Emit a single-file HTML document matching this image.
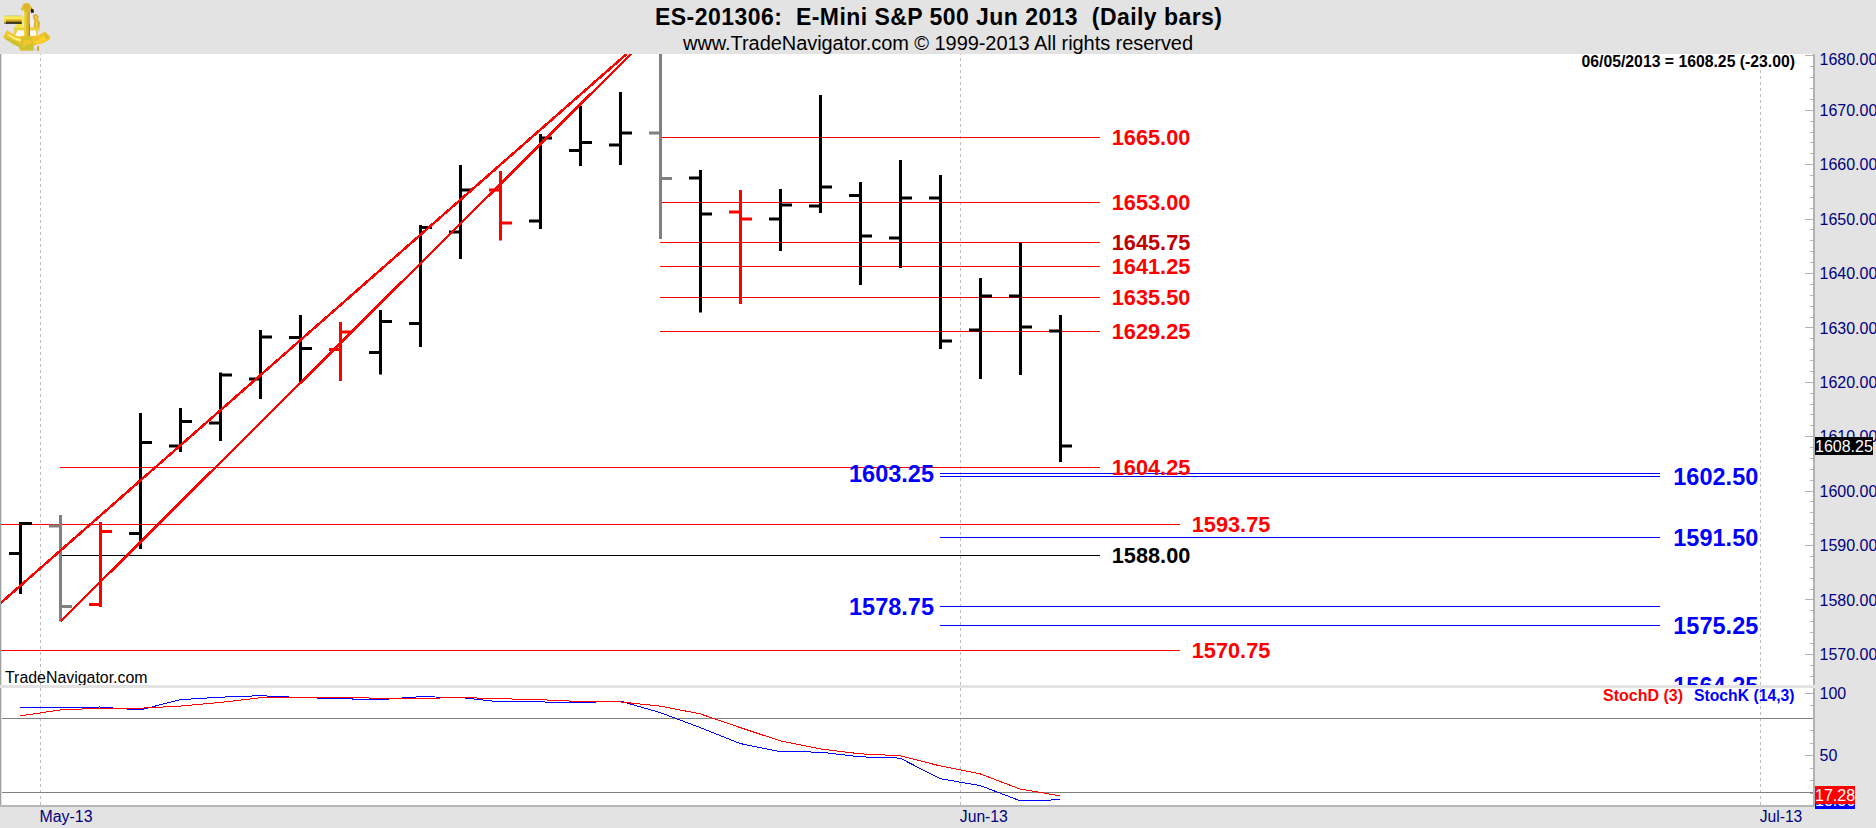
<!DOCTYPE html>
<html><head><meta charset="utf-8"><title>ES-201306: E-Mini S&amp;P 500 Jun 2013 (Daily bars)</title>
<style>
html,body{margin:0;padding:0;}
body{width:1876px;height:828px;overflow:hidden;background:#e3e3e3;position:relative;font-family:"Liberation Sans",sans-serif;}
svg{position:absolute;left:0;top:0;}
svg text{font-family:"Liberation Sans",sans-serif;}
</style></head><body>
<svg width="1876" height="828" viewBox="0 0 1876 828">
<defs>
<clipPath id="cp2"><rect x="0" y="54" width="1813" height="751"/></clipPath><clipPath id="cp"><rect x="1" y="54" width="1812" height="631"/></clipPath>
<linearGradient id="tel" x1="0" y1="0" x2="0" y2="1"><stop offset="0" stop-color="#c8c8b0"/><stop offset="0.12" stop-color="#f0e050"/><stop offset="0.38" stop-color="#fff060"/><stop offset="0.55" stop-color="#f0b020"/><stop offset="0.72" stop-color="#a09020"/><stop offset="0.9" stop-color="#181408"/><stop offset="1" stop-color="#181408"/></linearGradient>
<linearGradient id="gold" x1="0" y1="0" x2="1" y2="0"><stop offset="0" stop-color="#f4dc48"/><stop offset="0.5" stop-color="#e0b82c"/><stop offset="1" stop-color="#c8a020"/></linearGradient>
</defs>

<rect x="0" y="54" width="1814" height="631" fill="#fff"/>
<rect x="0" y="688" width="1814" height="117" fill="#fff"/>
<rect x="0" y="54" width="1.3" height="751" fill="#a0a0a0"/>
<rect x="1813" y="54" width="2" height="753" fill="#b2b2b2"/>
<rect x="0" y="805" width="1815" height="2" fill="#b8b8b8"/>
<path d="M40.5 52V685M40.5 688V805" stroke="#bcbcbc" stroke-width="1" stroke-dasharray="3 3" fill="none" clip-path="url(#cp2)"/>
<path d="M960.5 52V685M960.5 688V805" stroke="#bcbcbc" stroke-width="1" stroke-dasharray="3 3" fill="none" clip-path="url(#cp2)"/>
<path d="M1760.5 52V685M1760.5 688V805" stroke="#bcbcbc" stroke-width="1" stroke-dasharray="3 3" fill="none" clip-path="url(#cp2)"/>
<path d="M1805 55.5H1813M1810 66.5H1813M1810 77.5H1813M1810 88.5H1813M1810 99.5H1813M1805 110.5H1813M1810 121.5H1813M1810 132.5H1813M1810 142.5H1813M1810 153.5H1813M1805 164.5H1813M1810 175.5H1813M1810 186.5H1813M1810 197.5H1813M1810 208.5H1813M1805 219.5H1813M1810 229.5H1813M1810 240.5H1813M1810 251.5H1813M1810 262.5H1813M1805 273.5H1813M1810 284.5H1813M1810 295.5H1813M1810 306.5H1813M1810 317.5H1813M1805 327.5H1813M1810 338.5H1813M1810 349.5H1813M1810 360.5H1813M1810 371.5H1813M1805 382.5H1813M1810 393.5H1813M1810 404.5H1813M1810 414.5H1813M1810 425.5H1813M1805 436.5H1813M1810 447.5H1813M1810 458.5H1813M1810 469.5H1813M1810 480.5H1813M1805 491.5H1813M1810 501.5H1813M1810 512.5H1813M1810 523.5H1813M1810 534.5H1813M1805 545.5H1813M1810 556.5H1813M1810 567.5H1813M1810 578.5H1813M1810 589.5H1813M1805 599.5H1813M1810 610.5H1813M1810 621.5H1813M1810 632.5H1813M1810 643.5H1813M1805 654.5H1813M1810 665.5H1813M1810 676.5H1813M1805 693.5H1813M1810 705.5H1813M1810 718.5H1813M1810 730.5H1813M1810 743.5H1813M1805 755.5H1813M1810 768.5H1813M1810 780.5H1813M1810 793.5H1813M1810 805.5H1813" stroke="#b2b2b2" stroke-width="1" fill="none"/>
<g clip-path="url(#cp)">
<rect x="660" y="137" width="440" height="1" fill="#ff0000"/>
<rect x="660" y="202" width="440" height="1" fill="#ff0000"/>
<rect x="660" y="242" width="440" height="1" fill="#ff0000"/>
<rect x="660" y="266" width="440" height="1" fill="#ff0000"/>
<rect x="660" y="297" width="440" height="1" fill="#ff0000"/>
<rect x="660" y="331" width="440" height="1" fill="#ff0000"/>
<rect x="60" y="467" width="1040" height="1" fill="#ff0000"/>
<rect x="0" y="524" width="1180" height="1" fill="#ff0000"/>
<rect x="0" y="650" width="1180" height="1" fill="#ff0000"/>
<rect x="60" y="555" width="1040" height="1" fill="#000"/>
<rect x="940" y="473" width="720" height="1" fill="#0000ff"/>
<rect x="940" y="476" width="720" height="1" fill="#0000ff"/>
<rect x="940" y="537" width="720" height="1" fill="#0000ff"/>
<rect x="940" y="606" width="720" height="1" fill="#0000ff"/>
<rect x="940" y="625" width="720" height="1" fill="#0000ff"/>
<rect x="19.0" y="522" width="3" height="72" fill="#000"/>
<rect x="9.0" y="552.0" width="10" height="3" fill="#000"/>
<rect x="22.0" y="522.0" width="10" height="3" fill="#000"/>
<rect x="59.0" y="515" width="3" height="106.5" fill="#808080"/>
<rect x="49.0" y="524.5" width="10" height="3" fill="#808080"/>
<rect x="62.0" y="605.0" width="10" height="3" fill="#808080"/>
<rect x="99.0" y="522" width="3" height="85" fill="#ff0000"/>
<rect x="89.0" y="603.0" width="10" height="3" fill="#ff0000"/>
<rect x="102.0" y="530.0" width="10" height="3" fill="#ff0000"/>
<rect x="139.0" y="413" width="3" height="136" fill="#000"/>
<rect x="129.0" y="532.0" width="10" height="3" fill="#000"/>
<rect x="142.0" y="441.0" width="10" height="3" fill="#000"/>
<rect x="179.0" y="408" width="3" height="44" fill="#000"/>
<rect x="169.0" y="444.5" width="10" height="3" fill="#000"/>
<rect x="182.0" y="420.0" width="10" height="3" fill="#000"/>
<rect x="219.0" y="372.5" width="3" height="68.5" fill="#000"/>
<rect x="209.0" y="421.5" width="10" height="3" fill="#000"/>
<rect x="222.0" y="373.5" width="10" height="3" fill="#000"/>
<rect x="259.0" y="330" width="3" height="69" fill="#000"/>
<rect x="249.0" y="377.5" width="10" height="3" fill="#000"/>
<rect x="262.0" y="335.5" width="10" height="3" fill="#000"/>
<rect x="299.0" y="315" width="3" height="67" fill="#000"/>
<rect x="289.0" y="336.0" width="10" height="3" fill="#000"/>
<rect x="302.0" y="347.0" width="10" height="3" fill="#000"/>
<rect x="339.0" y="322" width="3" height="59" fill="#ff0000"/>
<rect x="329.0" y="348.0" width="10" height="3" fill="#ff0000"/>
<rect x="342.0" y="330.5" width="10" height="3" fill="#ff0000"/>
<rect x="379.0" y="310" width="3" height="64.5" fill="#000"/>
<rect x="369.0" y="351.0" width="10" height="3" fill="#000"/>
<rect x="382.0" y="320.0" width="10" height="3" fill="#000"/>
<rect x="419.0" y="225" width="3" height="122" fill="#000"/>
<rect x="409.0" y="322.0" width="10" height="3" fill="#000"/>
<rect x="422.0" y="226.0" width="10" height="3" fill="#000"/>
<rect x="459.0" y="165" width="3" height="94" fill="#000"/>
<rect x="449.0" y="230.5" width="10" height="3" fill="#000"/>
<rect x="462.0" y="188.5" width="10" height="3" fill="#000"/>
<rect x="499.0" y="171" width="3" height="69.5" fill="#ff0000"/>
<rect x="489.0" y="188.5" width="10" height="3" fill="#ff0000"/>
<rect x="502.0" y="221.5" width="10" height="3" fill="#ff0000"/>
<rect x="539.0" y="134" width="3" height="95" fill="#000"/>
<rect x="529.0" y="219.5" width="10" height="3" fill="#000"/>
<rect x="542.0" y="136.5" width="10" height="3" fill="#000"/>
<rect x="579.0" y="106" width="3" height="60" fill="#000"/>
<rect x="569.0" y="149.0" width="10" height="3" fill="#000"/>
<rect x="582.0" y="141.0" width="10" height="3" fill="#000"/>
<rect x="619.0" y="92" width="3" height="73" fill="#000"/>
<rect x="609.0" y="143.5" width="10" height="3" fill="#000"/>
<rect x="622.0" y="131.5" width="10" height="3" fill="#000"/>
<rect x="659.0" y="54" width="3" height="185" fill="#808080"/>
<rect x="649.0" y="131.5" width="10" height="3" fill="#808080"/>
<rect x="662.0" y="177.0" width="10" height="3" fill="#808080"/>
<rect x="699.0" y="170" width="3" height="142.5" fill="#000"/>
<rect x="689.0" y="176.5" width="10" height="3" fill="#000"/>
<rect x="702.0" y="212.5" width="10" height="3" fill="#000"/>
<rect x="739.0" y="190" width="3" height="114" fill="#ff0000"/>
<rect x="729.0" y="210.5" width="10" height="3" fill="#ff0000"/>
<rect x="742.0" y="217.5" width="10" height="3" fill="#ff0000"/>
<rect x="779.0" y="189" width="3" height="62" fill="#000"/>
<rect x="769.0" y="217.5" width="10" height="3" fill="#000"/>
<rect x="782.0" y="203.5" width="10" height="3" fill="#000"/>
<rect x="819.0" y="95" width="3" height="118" fill="#000"/>
<rect x="809.0" y="204.5" width="10" height="3" fill="#000"/>
<rect x="822.0" y="185.5" width="10" height="3" fill="#000"/>
<rect x="859.0" y="182" width="3" height="103" fill="#000"/>
<rect x="849.0" y="194.0" width="10" height="3" fill="#000"/>
<rect x="862.0" y="234.5" width="10" height="3" fill="#000"/>
<rect x="899.0" y="160" width="3" height="108" fill="#000"/>
<rect x="889.0" y="236.5" width="10" height="3" fill="#000"/>
<rect x="902.0" y="196.5" width="10" height="3" fill="#000"/>
<rect x="939.0" y="175" width="3" height="174" fill="#000"/>
<rect x="929.0" y="196.5" width="10" height="3" fill="#000"/>
<rect x="942.0" y="339.5" width="10" height="3" fill="#000"/>
<rect x="979.0" y="278" width="3" height="101" fill="#000"/>
<rect x="969.0" y="328.5" width="10" height="3" fill="#000"/>
<rect x="982.0" y="294.5" width="10" height="3" fill="#000"/>
<rect x="1019.0" y="242.5" width="3" height="132.5" fill="#000"/>
<rect x="1009.0" y="294.5" width="10" height="3" fill="#000"/>
<rect x="1022.0" y="325.5" width="10" height="3" fill="#000"/>
<rect x="1059.0" y="315" width="3" height="147" fill="#000"/>
<rect x="1049.0" y="329.5" width="10" height="3" fill="#000"/>
<rect x="1062.0" y="444.5" width="10" height="3" fill="#000"/>
<path d="M0 603.6L626.6 54M60.5 621.5L631 54" stroke="#ff0000" stroke-width="2.5" fill="none" shape-rendering="crispEdges"/>
<text x="1111.8" y="145.4" font-size="22" font-weight="bold" fill="#ff0000" textLength="78.5" lengthAdjust="spacingAndGlyphs">1665.00</text>
<text x="1111.8" y="210.4" font-size="22" font-weight="bold" fill="#ff0000" textLength="78.5" lengthAdjust="spacingAndGlyphs">1653.00</text>
<text x="1111.8" y="274.4" font-size="22" font-weight="bold" fill="#ff0000" textLength="78.5" lengthAdjust="spacingAndGlyphs">1641.25</text>
<text x="1111.8" y="305.4" font-size="22" font-weight="bold" fill="#ff0000" textLength="78.5" lengthAdjust="spacingAndGlyphs">1635.50</text>
<text x="1111.8" y="339.4" font-size="22" font-weight="bold" fill="#ff0000" textLength="78.5" lengthAdjust="spacingAndGlyphs">1629.25</text>
<text x="1111.8" y="475.4" font-size="22" font-weight="bold" fill="#ff0000" textLength="78.5" lengthAdjust="spacingAndGlyphs">1604.25</text>
<text x="1111.8" y="250.4" font-size="22" font-weight="bold" fill="#c00000" textLength="78.5" lengthAdjust="spacingAndGlyphs">1645.75</text>
<text x="1111.8" y="563.4" font-size="22" font-weight="bold" fill="#000" textLength="78.5" lengthAdjust="spacingAndGlyphs">1588.00</text>
<text x="1191.8" y="532.4" font-size="22" font-weight="bold" fill="#ff0000" textLength="78.5" lengthAdjust="spacingAndGlyphs">1593.75</text>
<text x="1191.8" y="658.4" font-size="22" font-weight="bold" fill="#ff0000" textLength="78.5" lengthAdjust="spacingAndGlyphs">1570.75</text>
<text x="849.0" y="482.1" font-size="24" font-weight="bold" fill="#0000ff" textLength="85" lengthAdjust="spacingAndGlyphs">1603.25</text>
<text x="849.0" y="615.1" font-size="24" font-weight="bold" fill="#0000ff" textLength="85" lengthAdjust="spacingAndGlyphs">1578.75</text>
<text x="1673.3" y="485.1" font-size="24" font-weight="bold" fill="#0000ff" textLength="85" lengthAdjust="spacingAndGlyphs">1602.50</text>
<text x="1673.3" y="546.1" font-size="24" font-weight="bold" fill="#0000ff" textLength="85" lengthAdjust="spacingAndGlyphs">1591.50</text>
<text x="1673.3" y="634.1" font-size="24" font-weight="bold" fill="#0000ff" textLength="85" lengthAdjust="spacingAndGlyphs">1575.25</text>
<text x="1673.3" y="694.3" font-size="24" font-weight="bold" fill="#0000ff" textLength="85" lengthAdjust="spacingAndGlyphs">1564.25</text>
<text x="5" y="683" font-size="16" fill="#000" textLength="142.5" lengthAdjust="spacingAndGlyphs">TradeNavigator.com</text>
<text x="1795" y="66.5" font-size="16" font-weight="bold" fill="#000" text-anchor="end" textLength="213.5" lengthAdjust="spacingAndGlyphs">06/05/2013 = 1608.25 (-23.00)</text>
</g>
<rect x="0" y="685" width="1815" height="3" fill="#e3e3e3"/>
<rect x="2" y="718" width="1811" height="1" fill="#808080"/><rect x="2" y="792" width="1811" height="1" fill="#808080"/>
<polyline points="20,707.8 60,707.8 100,707.0 140,710.0 180,699.7 220,697.2 260,695.7 300,697.5 340,698.7 380,699.7 420,696.7 460,697.5 500,701.9 540,701.9 580,702.7 620,701.0 660,712.5 700,727.5 740,743.5 780,751.7 820,752.1 860,756.8 900,758.1 940,778.7 980,785.5 1020,800.7 1060,799.8" stroke="#0000ff" stroke-width="1" fill="none" shape-rendering="crispEdges"/>
<polyline points="20,715.9 60,710.0 100,708.2 140,708.2 180,706.1 220,702.5 260,697.8 300,697.2 340,697.5 380,698.2 420,698.5 460,697.5 500,698.7 540,699.7 580,701.5 620,701.9 660,706.1 700,713.8 740,727.5 780,740.8 820,748.9 860,753.8 900,755.7 940,765.9 980,773.8 1020,789.0 1060,795.8" stroke="#ff0000" stroke-width="1" fill="none" shape-rendering="crispEdges"/>
<text x="1683" y="701" font-size="16" font-weight="bold" fill="#ff0000" text-anchor="end">StochD (3)</text>
<text x="1694" y="701" font-size="16" font-weight="bold" fill="#0000ff" textLength="100.5" lengthAdjust="spacingAndGlyphs">StochK (14,3)</text>
<text x="1819.5" y="660.0" font-size="16" fill="#000080">1570.00</text>
<text x="1819.5" y="605.5" font-size="16" fill="#000080">1580.00</text>
<text x="1819.5" y="551.1" font-size="16" fill="#000080">1590.00</text>
<text x="1819.5" y="496.8" font-size="16" fill="#000080">1600.00</text>
<text x="1819.5" y="442.4" font-size="16" fill="#000080">1610.00</text>
<text x="1819.5" y="387.9" font-size="16" fill="#000080">1620.00</text>
<text x="1819.5" y="333.5" font-size="16" fill="#000080">1630.00</text>
<text x="1819.5" y="279.1" font-size="16" fill="#000080">1640.00</text>
<text x="1819.5" y="224.8" font-size="16" fill="#000080">1650.00</text>
<text x="1819.5" y="170.3" font-size="16" fill="#000080">1660.00</text>
<text x="1819.5" y="115.9" font-size="16" fill="#000080">1670.00</text>
<text x="1819.5" y="64.5" font-size="16" fill="#000080">1680.00</text>
<text x="1819.5" y="698.5" font-size="16" fill="#000080">100</text>
<text x="1819.5" y="760.5" font-size="16" fill="#000080">50</text>
<rect x="1815" y="437" width="58" height="18" fill="#000"/><text x="1815" y="451.5" font-size="16" fill="#fff">1608.25</text>
<rect x="1815" y="786" width="40" height="23" fill="#0000ff"/><text x="1815" y="806.2" font-size="16" fill="#fff">13.36</text>
<rect x="1815" y="786" width="40" height="18" fill="#ff0000"/><text x="1815" y="801.2" font-size="16" fill="#fff">17.28</text>
<text x="39.5" y="822" font-size="16" fill="#000080" textLength="53" lengthAdjust="spacingAndGlyphs">May-13</text>
<text x="959.8" y="822" font-size="16" fill="#000080" textLength="48" lengthAdjust="spacingAndGlyphs">Jun-13</text>
<text x="1759.8" y="822" font-size="16" fill="#000080" textLength="42.5" lengthAdjust="spacingAndGlyphs">Jul-13</text>
<text x="655" y="24.5" font-size="23" font-weight="bold" fill="#000" xml:space="preserve" style="white-space:pre" textLength="567" lengthAdjust="spacing">ES-201306:  E-Mini S&amp;P 500 Jun 2013  (Daily bars)</text>
<text x="683" y="49.5" font-size="20" fill="#000" textLength="510" lengthAdjust="spacing">www.TradeNavigator.com © 1999-2013 All rights reserved</text>
<g id="logo">
<path d="M3 37.2 L7.1 30.3 L11.2 33.1 L15.6 35.8 L19.6 36.5 L22 35.8 L30.4 35.8 L37.9 35.5 L41.6 33.5 L45 31.6 L50.7 37.2 L49 39.9 L43.3 42.9 L37.2 44.6 L33.8 45.6 L33.8 50.4 L20.3 50.4 L18.9 47 L13.5 44.3 L6.8 39.9 Z" fill="#f2c22a"/>
<path d="M3.6 37.4 L6.8 39.9 L13.5 44.3 L18.9 47 L20.3 49.7 L21.5 45 L16 41.5 L9 38.5 Z" fill="#c8c234"/>
<path d="M6.6 33.2 L10 34.5 L15 37.4 L20.5 39 L20.8 41.4 L15 39.8 L9.5 36.8 Z" fill="#fff27a"/>
<path d="M33.5 41.5 L38 40 L44 36 L47.5 35 L49 38 L43 42 L36.5 44.3 Z" fill="#ffd028"/>
<path d="M44.5 33 L48.8 36.8 L48 39.6 L45 37.5 Z" fill="#c8c234"/>
<path d="M13.5 27.4 L39.9 27.4 L39.9 30.4 L37.5 30.4 L38.2 35.5 L36.5 35.6 L35.6 30.4 L17.5 30.4 L15 35.4 L13 34.2 L14.8 30.4 L13.5 30 Z" fill="#ecd23a"/>
<path d="M15.5 24 L21.6 23.7 L23.7 27.4 L15 27.6 Z" fill="#f4e444"/>
<path d="M33.2 15 L36.4 14 L38.8 16.4 L37.6 19.2 L40 22.4 L39.4 27.6 L33.4 27.6 L34.4 21 L33 18 Z" fill="#dcae2c"/>
<path d="M34.8 16.4 L36.4 15.6 L37.2 17 L36 19.4 L37.9 22.6 L37.4 26.4 L35.6 26.8 L35.9 21.5 Z" fill="#f0dc40"/>
<path d="M24 10.2 L21.6 10.6 L20.6 8.4 L22 7.2 L22.6 5 L24.3 3.2 L27.6 2.9 L30 4.2 L30.8 6.4 L32.4 7.4 L32 10.2 L30 11.2 L29.9 35.8 L32.6 39.5 L33.8 50.4 L20.3 50.4 L21.4 39.5 L24.2 35.8 Z" fill="#d6c42e"/>
<path d="M24.2 12 L25.8 12 L25.8 36 L24.2 36 Z" fill="#f0d838"/>
<path d="M27.4 11 L29.9 11 L29.9 36 L27.6 36 Z" fill="#e0a62c"/>
<path d="M29 24 L29.9 24 L29.9 36 L29.2 36 Z" fill="#a88418"/>
<path d="M24.5 4.2 L28 3.6 L29.6 6.5 L29 10 L25 10.6 L23.8 7.5 Z" fill="#e4b030"/>
<path d="M22.4 40.5 L31.8 40.5 L32.8 49.6 L21.4 49.6 Z" fill="#ccc42e"/>
<path d="M23.4 40 L31 40 L31.4 44 L27 44 L25 47 L23 47 Z" fill="#f6c42a"/>
<path d="M31.2 8.4 L33.6 9.4 L34 12.6 L31.4 13 L30.6 11 Z" fill="#2c1c04"/>
<rect x="21.8" y="16.6" width="2.4" height="7" fill="#f4e870"/><path d="M17.6 30.5 L24 30.5 L24 35.6 L21.5 35.8 L19.6 36.3 L15.8 35.4 Z" fill="#fafafa"/><path d="M30.1 30.5 L35.5 30.5 L36.4 35.5 L30.1 35.7 Z" fill="#fafafa"/><path d="M30.3 14 L32.8 14.6 L33 18 L34.2 21 L33.4 27 L30.3 27 Z" fill="#f0f0f4"/>
<rect x="4.2" y="15.2" width="17.6" height="8.6" fill="url(#tel)"/>
<rect x="4.2" y="15.8" width="1.6" height="7.8" fill="#f4e060" opacity="0.8"/>
<rect x="33.6" y="48.6" width="4" height="0.9" fill="#a8d8f0"/>
<rect x="37.2" y="46" width="1.8" height="4.8" fill="#d8a018"/>
</g>
</svg></body></html>
